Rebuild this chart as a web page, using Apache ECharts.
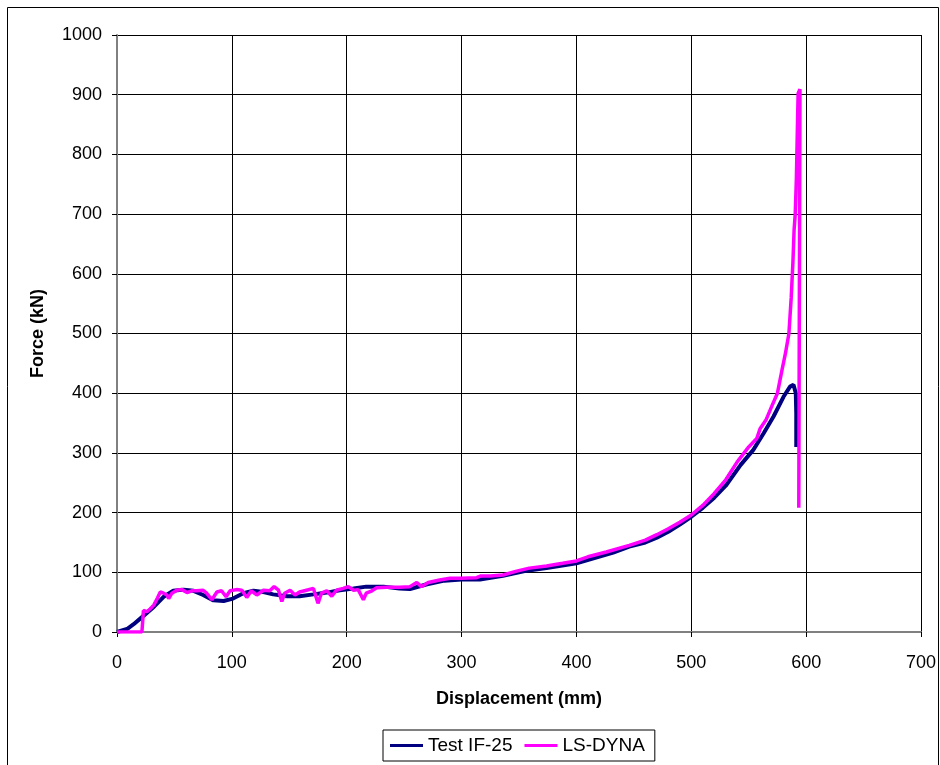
<!DOCTYPE html>
<html>
<head>
<meta charset="utf-8">
<script src="https://cdn.jsdelivr.net/npm/echarts@6/dist/echarts.min.js"></script>
<style>
html,body{margin:0;padding:0;background:#fff;}
#c{width:940px;height:765px;}
</style>
</head>
<body>
<div id="c"></div>
<script>
const xTicks = [0, 100, 200, 300, 400, 500, 600, 700];
const yTicks = [0, 100, 200, 300, 400, 500, 600, 700, 800, 900, 1000];

const testX = [0, 8.7, 14.5, 23, 32, 40.6, 49, 58, 66.7, 75, 84, 92.8, 101, 110, 118.8, 127.5, 136, 148, 159, 171, 182.6, 194, 206, 217, 232, 246, 255, 270, 285, 300, 316, 336, 355, 374, 400, 432, 446, 460, 470, 480, 490, 500, 510, 520, 530, 543, 554, 563, 571.6, 580.3, 586, 589, 591, 591.4, 591.4];
const testY = [0, 5, 13, 27, 42, 59, 69, 71, 69, 62, 53, 52, 56, 65, 69, 67, 63, 60, 60, 63, 66, 70, 73, 76, 76, 73, 72, 80, 86, 88, 88, 94, 102, 107, 115, 133, 143, 150, 158, 168, 180, 193, 208, 225, 245, 280, 305, 333, 361, 394, 411, 414, 400, 366, 310];

const dynaX = [0, 21.7, 23, 26, 29, 32, 35, 37.7, 40.6, 43.5, 45, 47.8, 52, 56.5, 61, 65, 69.5, 75, 78, 82.6, 87, 91, 95, 98.5, 104, 108.7, 113, 117, 121.7, 127.5, 133, 136.8, 140.6, 143.5, 146, 150.7, 155, 159, 165, 171, 175, 178, 182.6, 187, 191, 197, 201.4, 206, 210, 214.5, 217, 222, 226, 235, 246, 255, 261, 265, 271, 281, 290, 300, 313, 317, 325, 336, 348, 359, 374, 388, 400, 410, 426, 446, 460, 470, 480, 490, 500, 510, 520, 530, 540, 550, 557, 560, 565, 570, 575, 579, 582, 585, 587, 588.5, 589.5, 590.5, 591.5, 593, 594.6, 593.6];
const dynaY = [0, 0, 36, 34, 39, 45, 56, 67, 65, 62, 56, 65, 70, 71, 66, 69, 69, 70, 65, 54, 67, 69, 59, 69, 71, 70, 58, 69, 62, 70, 69, 76, 70, 51, 65, 70, 62, 67, 70, 73, 48, 65, 69, 60, 70, 73, 76, 70, 71, 54, 65, 69, 74, 75, 75, 76, 83, 76, 83, 87, 90, 90, 91, 94, 94, 95.5, 102, 107, 110.5, 115, 119, 126, 134, 145, 154, 163, 173, 184, 196, 212, 232, 255, 285, 310, 324, 341, 355, 378, 400, 439, 467, 500, 560, 620, 673, 700, 760, 902, 909, 208];

const zip = (xs, ys) => xs.map((x, i) => [x, ys[i]]);

const chart = echarts.init(document.getElementById('c'));
const font = 'Liberation Sans, Arial, sans-serif';
chart.setOption({
  backgroundColor: '#fff',
  animation: false,
  graphic: [{
    type: 'rect', left: 5, top: 5,
    shape: { width: 931, height: 800 },
    style: { fill: 'none', stroke: '#000', lineWidth: 1 }
  }],
  grid: { left: 117, right: 19, top: 35, bottom: 133 },
  legend: {
    left: 383, top: 730,
    padding: [6, 10, 6, 7],
    itemGap: 12,
    itemWidth: 33, itemHeight: 3,
    icon: 'rect',
    borderColor: '#000', borderWidth: 1,
    textStyle: { fontFamily: font, fontSize: 19, color: '#000' },
    data: ['Test IF-25', 'LS-DYNA']
  },
  xAxis: {
    type: 'value', min: xTicks[0], max: xTicks[xTicks.length - 1], interval: 100,
    name: 'Displacement (mm)', nameLocation: 'middle', nameGap: 58,
    nameTextStyle: { fontFamily: font, fontSize: 18, fontWeight: 'bold', color: '#000' },
    axisLine: { show: true, lineStyle: { color: '#808080', width: 2 } },
    axisTick: { show: true, length: 5, lineStyle: { color: '#000' } },
    axisLabel: { margin: 22, fontFamily: font, fontSize: 18, color: '#000', formatter: v => String(v) },
    splitLine: { show: true, lineStyle: { color: '#000', width: 1 } }
  },
  yAxis: {
    type: 'value', min: yTicks[0], max: yTicks[yTicks.length - 1], interval: 100,
    name: 'Force (kN)', nameLocation: 'middle', nameGap: 70,
    nameTextStyle: { fontFamily: font, fontSize: 18, fontWeight: 'bold', color: '#000' },
    axisLine: { show: true, lineStyle: { color: '#808080', width: 2 } },
    axisTick: { show: true, length: 5, lineStyle: { color: '#000' } },
    axisLabel: { margin: 15, fontFamily: font, fontSize: 18, color: '#000', formatter: v => String(v) },
    splitLine: { show: true, lineStyle: { color: '#000', width: 1 } }
  },
  series: [
    {
      name: 'Test IF-25', type: 'line', showSymbol: false, symbol: 'none',
      data: zip(testX, testY),
      lineStyle: { color: '#000080', width: 4 }, itemStyle: { color: '#000080' }
    },
    {
      name: 'LS-DYNA', type: 'line', showSymbol: false, symbol: 'none',
      data: zip(dynaX, dynaY),
      lineStyle: { color: '#FF00FF', width: 3.5 }, itemStyle: { color: '#FF00FF' }
    }
  ]
});
</script>
</body>
</html>
